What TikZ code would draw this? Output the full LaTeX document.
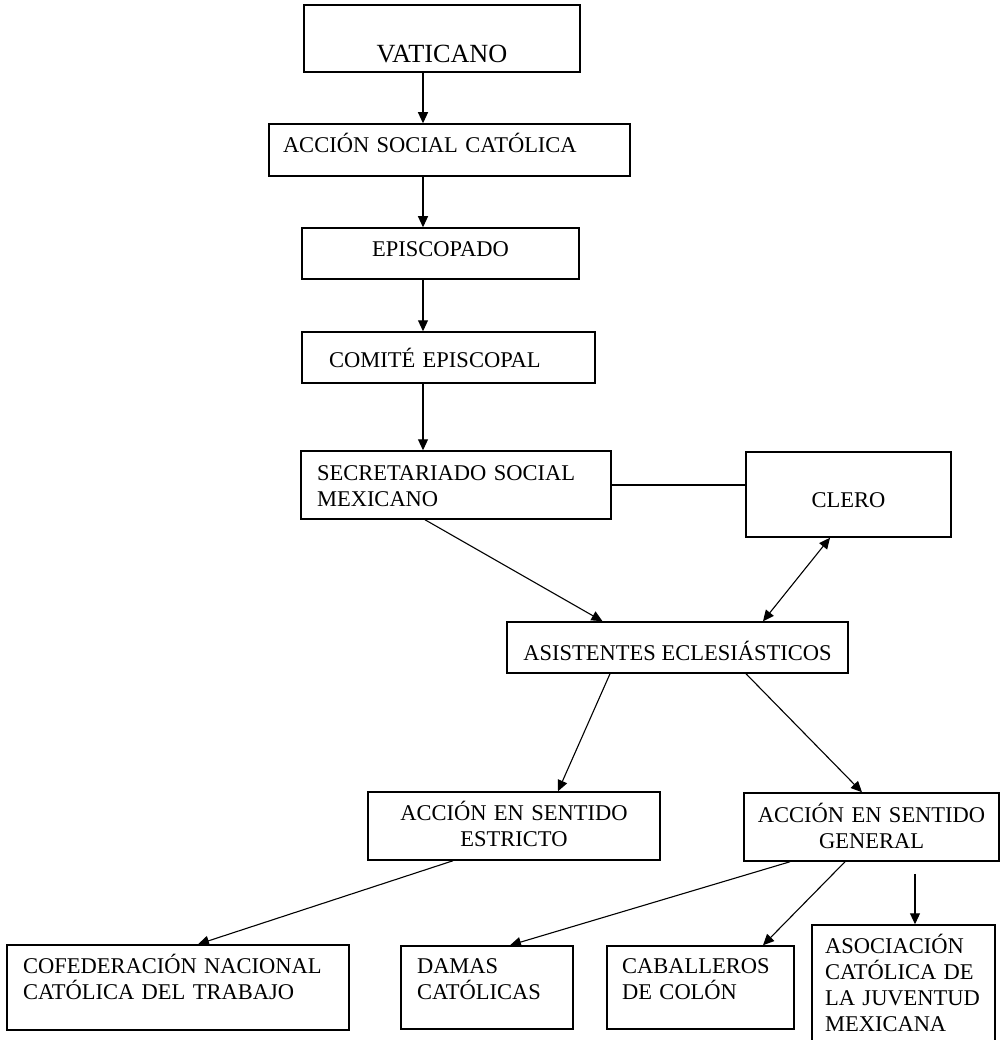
\documentclass[tikz,border=0pt]{standalone}
\usepackage{fontspec}
\setmainfont{Liberation Serif}
\usetikzlibrary{arrows.meta}

\begin{document}
\begin{tikzpicture}[x=1pt,y=-1pt,
	box/.style={draw,line width=1.5pt,inner sep=0pt,font=\fontsize{22.5}{26}\selectfont},
	lbox/.style={box,align=left},
	cbox/.style={box,align=center},
	arr/.style={line width=1.1pt,-{Triangle[length=11pt,width=10pt]}}]
	\useasboundingbox (0,0) rectangle (1005,1040);
	\coordinate (spine) at (423,0); % column of the vertical arrows
	
	\node[cbox,font=\fontsize{26.25}{30}\selectfont,minimum width=276pt,minimum height=67pt,text height=49pt,text depth=0pt] (vat) at (442,38.5) {VATICANO};
	\node[lbox,minimum width=361pt,minimum height=52pt,inner xsep=14pt,text width=333pt,text height=6pt,text depth=0pt] (acs) at (449.5,150) {ACCIÓN SOCIAL CATÓLICA};
	\node[cbox,minimum width=277pt,minimum height=51pt,text height=7pt,text depth=0pt] (epi) at (440.5,253.5) {EPISCOPADO};
	\node[lbox,minimum width=293pt,minimum height=51pt,inner xsep=27pt,text width=239pt,text height=19pt,text depth=0pt] (com) at (448.5,357.5) {COMITÉ EPISCOPAL};
	\node[lbox,minimum width=310pt,minimum height=68pt,inner xsep=16pt,text width=278pt,text height=0pt,text depth=10pt] (sec) at (456,485) {SECRETARIADO SOCIAL\\MEXICANO};
	\node[cbox,minimum width=205pt,minimum height=85pt,text height=25pt,text depth=0pt] (clero) at (848.5,494.5) {CLERO};
	\node[cbox,minimum width=341pt,minimum height=51pt,text height=25pt,text depth=0pt] (asi) at (677.5,647.5) {ASISTENTES ECLESIÁSTICOS};
	\node[cbox,minimum width=292pt,minimum height=68pt,text width=292pt,text height=0pt,text depth=12pt] (est) at (514,826) {ACCIÓN EN SENTIDO\\ESTRICTO};
	\node[cbox,minimum width=255pt,minimum height=68pt,text width=255pt,text height=0pt,text depth=10pt] (gen) at (871.5,827) {ACCIÓN EN SENTIDO\\GENERAL};
	\node[lbox,minimum width=342pt,minimum height=85pt,inner xsep=16pt,text width=310pt,text height=0pt,text depth=29pt] (cof) at (178,987.5) {COFEDERACIÓN NACIONAL\\CATÓLICA DEL TRABAJO};
	\node[lbox,minimum width=172pt,minimum height=83pt,inner xsep=16pt,text width=140pt,text height=0pt,text depth=29pt] (dam) at (487,987.5) {DAMAS\\CATÓLICAS};
	\node[lbox,minimum width=187pt,minimum height=83pt,inner xsep=15pt,text width=157pt,text height=0pt,text depth=29pt] (cab) at (700.5,987.5) {CABALLEROS\\DE COLÓN};
	\node[lbox,minimum width=183pt,minimum height=120pt,inner xsep=13pt,text width=157pt,text height=0pt,text depth=64pt] (aso) at (903.5,985) {ASOCIACIÓN\\CATÓLICA DE\\LA JUVENTUD\\MEXICANA};
	
	\foreach \a/\b in {vat/acs,acs/epi,epi/com,com/sec}
		\draw[arr] (\a.south -| spine) -- (\b.north -| spine);
	\draw[line width=1.1pt] (sec.east) -- (sec.east -| clero.west);
	% diagonal arrows: from/shift/to/shift
	\foreach \a/\s/\b/\t in {sec/-31/asi/-75,asi/-67.5/est/44,asi/68.5/gen/-9.5,est/-61/cof/20,gen/-81.5/dam/23,gen/-26.5/cab/62.5}
		\draw[arr] ([xshift=\s pt]\a.south) -- ([xshift=\t pt]\b.north);
	\draw[arr,{Triangle[length=11pt,width=10pt]}-{Triangle[length=11pt,width=10pt]}] ([xshift=-18.5pt]clero.south) -- ([xshift=85.5pt]asi.north);
	\draw[arr] ([xshift=43.5pt,yshift=-12pt]gen.south) -- ([xshift=11.5pt]aso.north);
\end{tikzpicture}
\end{document}
